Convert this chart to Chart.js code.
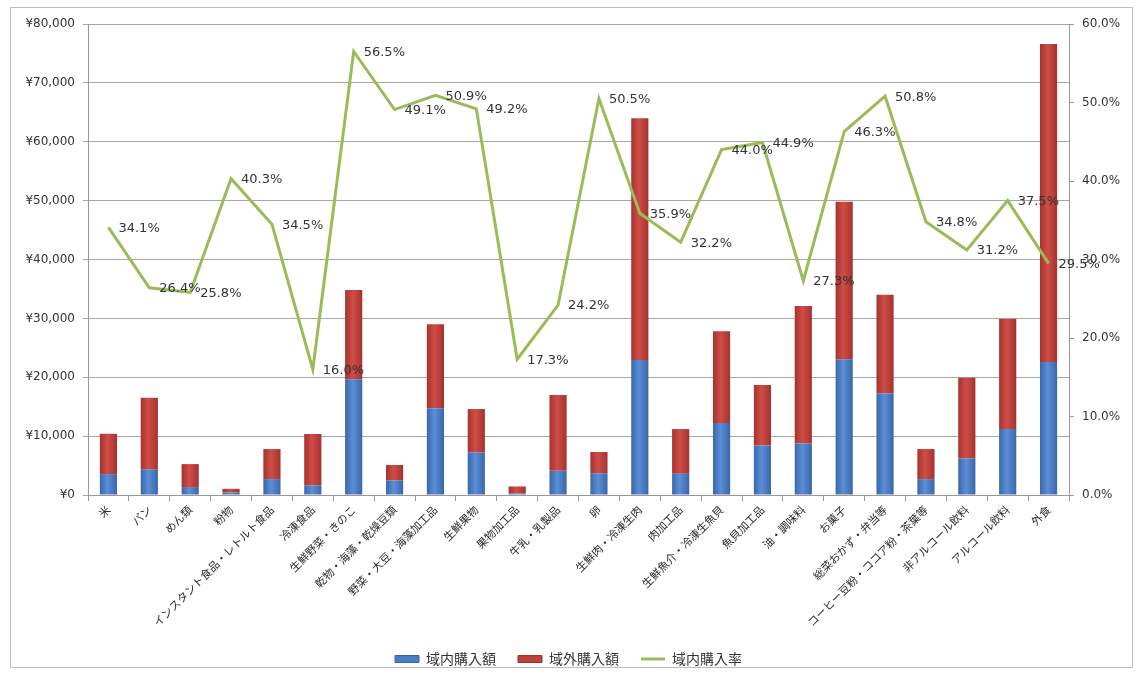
<!DOCTYPE html>
<html>
<head>
<meta charset="utf-8">
<script src="https://cdn.jsdelivr.net/npm/chart.js@4"></script>
<style>
html,body{margin:0;padding:0;background:#fff;}
#wrap{position:relative;width:1137px;height:678px;}
</style>
</head>
<body>
<div id="wrap"><canvas id="c" width="1137" height="678"></canvas></div>
<script>
const categories = ["米","パン","めん類","粉物","インスタント食品・レトルト食品","冷凍食品","生鮮野菜・きのこ","乾物・海藻・乾燥豆類","野菜・大豆・海藻加工品","生鮮果物","果物加工品","牛乳・乳製品","卵","生鮮肉・冷凍生肉","肉加工品","生鮮魚介・冷凍生魚貝","魚貝加工品","油・調味料","お菓子","総菜おかず・弁当等","コーヒー豆粉・ココア粉・茶葉等","非アルコール飲料","アルコール飲料","外食"];
const innerAmount = [3550,4350,1350,420,2700,1650,19650,2500,14750,7200,250,4100,3700,22950,3600,12250,8400,8750,23050,17250,2700,6200,11200,22600];
const outerAmount = [6850,12150,3900,630,5100,8700,15150,2600,14250,7400,1200,12900,3600,41050,7600,15550,10300,23350,26750,16750,5100,13700,18700,54000];
const innerRate = [34.1,26.4,25.8,40.3,34.5,16.0,56.5,49.1,50.9,49.2,17.3,24.2,50.5,35.9,32.2,44.0,44.9,27.3,46.3,50.8,34.8,31.2,37.5,29.5];
const seriesNames = ["域内購入額","域外購入額","域内購入率"];

const numFont = "'DejaVu Sans', Verdana, sans-serif";
const jpFont = "'Noto Sans CJK JP', sans-serif";
const textColor = '#333333';

function barGradient(edge, mid, flat){
  return function(c){
    const chart = c.chart;
    const xs = chart.scales && chart.scales.x;
    if (c.type !== 'data' || !xs || !isFinite(xs.getPixelForValue(c.dataIndex))) return flat;
    const x = xs.getPixelForValue(c.dataIndex);
    const g = chart.ctx.createLinearGradient(x-9,0,x+9,0);
    g.addColorStop(0, edge);
    g.addColorStop(0.45, mid);
    g.addColorStop(1, edge);
    return g;
  };
}

const framePlugin = {
  id:'frame',
  beforeDraw(chart){
    const ctx = chart.ctx;
    ctx.save();
    ctx.fillStyle='#fff';
    ctx.fillRect(0,0,chart.width,chart.height);
    ctx.strokeStyle='#bdbdbd';
    ctx.lineWidth=1;
    ctx.strokeRect(10.5,7.5,1122,660);
    ctx.restore();
  }
};
const labelPlugin = {
  id:'ratelabels',
  afterDatasetsDraw(chart){
    const meta = chart.getDatasetMeta(2);
    const ctx = chart.ctx;
    ctx.save();
    ctx.font = "13px " + numFont;
    ctx.fillStyle = '#333';
    ctx.textAlign='left';
    ctx.textBaseline='middle';
    meta.data.forEach((pt,i)=>{
      ctx.fillText(innerRate[i].toFixed(1)+'%', pt.x+10, pt.y+1);
    });
    ctx.restore();
  }
};

new Chart(document.getElementById('c'), {
  data:{
    labels:categories,
    datasets:[
      {type:'bar',label:seriesNames[0],data:innerAmount,backgroundColor:barGradient('#3a64a6','#5a8fd8','#4a7ec4'),yAxisID:'y',stack:'s',order:1,pointStyle:'rect',barPercentage:0.42,categoryPercentage:1},
      {type:'bar',label:seriesNames[1],data:outerAmount,backgroundColor:barGradient('#a3312d','#cf4d47','#bf413c'),yAxisID:'y',stack:'s',order:1,pointStyle:'rect',barPercentage:0.42,categoryPercentage:1},
      {type:'line',label:seriesNames[2],data:innerRate,borderColor:'#9bbb59',backgroundColor:'#9bbb59',borderWidth:3,pointRadius:0,pointStyle:'line',tension:0,yAxisID:'y1',order:0}
    ]
  },
  options:{
    responsive:false,
    animation:false,
    layout:{padding:{top:24,left:0,right:0,bottom:2}},
    plugins:{
      legend:{
        position:'bottom',
        labels:{usePointStyle:true,pointStyleWidth:24,boxWidth:24,boxHeight:7,padding:22,color:textColor,font:{family:jpFont,size:14},
          sort:(a,b)=>a.datasetIndex-b.datasetIndex,
          generateLabels(chart){
            const items = Chart.defaults.plugins.legend.labels.generateLabels(chart);
            items.forEach(it=>{
              if (it.datasetIndex===0){it.fillStyle='#4a7ec4';it.strokeStyle='#3a64a6';it.lineWidth=1;}
              if (it.datasetIndex===1){it.fillStyle='#bf413c';it.strokeStyle='#a3312d';it.lineWidth=1;}
            });
            return items;
          }}
      },
      tooltip:{enabled:false}
    },
    scales:{
      x:{
        stacked:true,
        grid:{display:true,drawOnChartArea:false,offset:true,tickLength:6,color:'#999'},
        border:{color:'#999'},
        ticks:{maxRotation:45,minRotation:45,autoSkip:false,color:'#2a2a2a',font:{family:jpFont,size:11},padding:2},
        afterFit(s){s.height=135;}
      },
      y:{
        stacked:true,position:'left',min:0,max:80000,
        ticks:{stepSize:10000,color:textColor,font:{family:numFont,size:12},padding:8,callback:v=>'¥'+v.toLocaleString('en-US')},
        grid:{color:'#a6a6a6',tickLength:5},
        border:{color:'#999'},
        afterFit(s){s.width=88;}
      },
      y1:{
        position:'right',min:0,max:60,
        ticks:{stepSize:10,color:textColor,font:{family:numFont,size:12},padding:8,callback:v=>v.toFixed(1)+'%'},
        grid:{drawOnChartArea:false,tickLength:5,color:'#999'},
        border:{color:'#999'},
        afterFit(s){s.width=68;}
      }
    }
  },
  plugins:[framePlugin,labelPlugin]
});
</script>
</body>
</html>
